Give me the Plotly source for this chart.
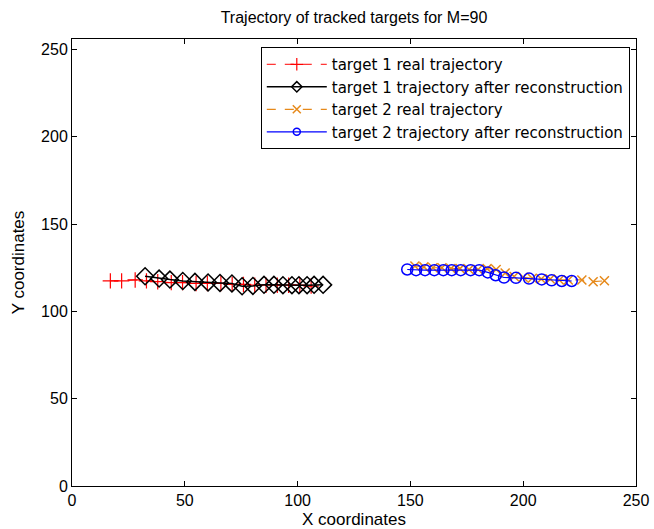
import plotly.graph_objects as go

# Target 1 real trajectory (red +)
t1_real_x = [17, 22, 28, 33, 38, 44, 49, 55, 60, 66, 71, 76, 81, 86, 91, 96, 101, 106]
t1_real_y = [117.5, 117.5, 118, 117.5, 117, 116.5, 116.5, 116, 116, 116, 115.5, 115.5, 115, 115, 115, 115, 115, 114.5]

# Target 1 reconstructed (black diamonds)
t1_rec_x = [32.4, 38.6, 43.4, 49.1, 54.5, 60.3, 65.6, 70.9, 75.4, 80.2, 85.1, 89.5, 93.5, 97.5, 100.6, 104.2, 107.3, 111.3]
t1_rec_y = [120.1, 118.8, 118.2, 117.4, 116.9, 116.6, 116.3, 116.0, 114.4, 114.6, 115.2, 115.2, 115.0, 115.0, 115.0, 115.0, 115.2, 115.2]

# Target 2 real trajectory (orange x)
t2_real_x = [152, 156, 160, 164, 168, 172, 176, 180, 184, 188, 192, 196, 200, 204, 208, 212, 216, 220, 226, 231, 236]
t2_real_y = [126, 125.5, 125, 125, 124.5, 124.5, 124, 124, 124.5, 124, 122, 120, 119.5, 119, 118.5, 118.5, 118, 118, 118, 117, 117.5]

# Target 2 reconstructed (blue circles)
t2_rec_x = [148.6, 152.5, 156.5, 160.6, 164.6, 168.3, 172.3, 176.7, 180.5, 184.3, 187.8, 191.5, 196.8, 202.6, 208.2, 212.6, 217.1, 221.5]
t2_rec_y = [124, 123.6, 123.6, 123.6, 123.6, 123.6, 123.6, 123.6, 123.6, 122.3, 120.7, 119.4, 119.2, 118.8, 118.3, 117.8, 117.4, 117.4]

series_names = [
    "target 1 real trajectory",
    "target 1 trajectory after reconstruction",
    "target 2 real trajectory",
    "target 2 trajectory after reconstruction",
]

x_ticks = [0, 50, 100, 150, 200, 250]
y_ticks = [0, 50, 100, 150, 200, 250]

FONT = "Liberation Sans, Arial, sans-serif"
LEGEND_FONT = "DejaVu Sans, Liberation Sans, sans-serif"

styles = [
    dict(line=dict(color="#ff0000", width=1, dash="dash"),
         marker=dict(symbol="cross-thin-open", line=dict(color="#ff0000", width=1.2))),
    dict(line=dict(color="#000000", width=1.5),
         marker=dict(symbol="diamond-open", color="#000000", line=dict(color="#000000", width=1.5))),
    dict(line=dict(color="#e6891a", width=1.2, dash="dash"),
         marker=dict(symbol="x-thin-open", line=dict(color="#e6891a", width=1.5))),
    dict(line=dict(color="#0000ff", width=1.2),
         marker=dict(symbol="circle-open", color="#0000ff", line=dict(color="#0000ff", width=1.5))),
]
plot_sizes = [11, 13, 9, 11]
legend_sizes = [9, 8, 8, 7]
data = [(t1_real_x, t1_real_y), (t1_rec_x, t1_rec_y), (t2_real_x, t2_real_y), (t2_rec_x, t2_rec_y)]

fig = go.Figure()
for (xs, ys), name, st, ps in zip(data, series_names, styles, plot_sizes):
    mk = dict(st["marker"]); mk["size"] = ps
    fig.add_trace(go.Scatter(x=xs, y=ys, mode="lines+markers", name=name,
                             line=st["line"], marker=mk, showlegend=False))
# legend entries with MATLAB-like small markers
for name, st, ls in zip(series_names, styles, legend_sizes):
    mk = dict(st["marker"]); mk["size"] = ls
    fig.add_trace(go.Scatter(x=[None], y=[None], mode="lines+markers", name=name,
                             line=st["line"], marker=mk, showlegend=True))

axis_common = dict(
    showline=True, linecolor="black", linewidth=1, mirror="ticks",
    ticks="inside", ticklen=5, tickcolor="black", tickwidth=1,
    showgrid=False, zeroline=False, automargin=False,
    tickfont=dict(family=FONT, size=16, color="black"),
)

fig.update_layout(
    width=654, height=529,
    margin=dict(l=72, r=18, t=39, b=43),
    paper_bgcolor="white", plot_bgcolor="white",
    font=dict(family=FONT, size=16, color="black"),
    title=dict(text="Trajectory of tracked targets for M=90", x=0.5, xref="paper",
               y=1 - 17 / 529, yref="container", yanchor="middle",
               font=dict(family=FONT, size=16, color="black")),
    xaxis=dict(range=[0, 250], tickvals=x_ticks,
               title=dict(text="X coordinates", standoff=8, font=dict(family=FONT, size=17)),
               **axis_common),
    yaxis=dict(range=[0, 256], tickvals=y_ticks,
               title=dict(text="Y coordinates", standoff=12, font=dict(family=FONT, size=17)),
               **axis_common),
    legend=dict(x=0.989, y=0.982, xanchor="right", yanchor="top",
                bgcolor="white", bordercolor="black", borderwidth=1,
                font=dict(family=LEGEND_FONT, size=15, color="black"),
                itemwidth=60, tracegroupgap=0),
    showlegend=True,
)

fig.write_html("out.html")
